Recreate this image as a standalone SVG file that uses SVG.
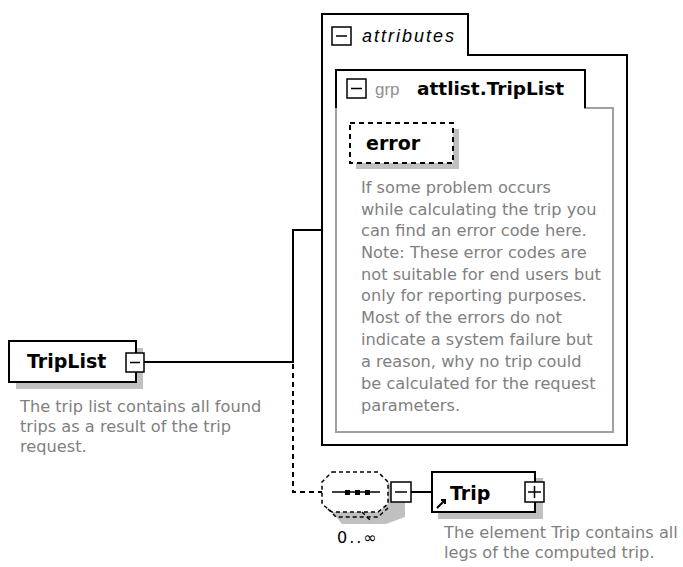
<svg xmlns="http://www.w3.org/2000/svg" width="683" height="567" viewBox="0 0 683 567">
<style>
.box{fill:#fff;stroke:#000;stroke-width:2}
.shadow{fill:#c0c0c0}
.name{font-family:"DejaVu Sans",Verdana,sans-serif;font-weight:bold;font-size:19px;fill:#000}
.desc{font-family:"DejaVu Sans",Verdana,sans-serif;font-size:16.2px;fill:#808080}
.btn{fill:#fff;stroke:#000;stroke-width:1.5}
.sign{stroke:#000;stroke-width:1.5;fill:none}
.conn{stroke:#000;stroke-width:2;fill:none}
.dash{stroke:#000;stroke-width:2;fill:none;stroke-dasharray:5,4}
.cdash{stroke:#000;stroke-width:1.5;fill:none;stroke-dasharray:4,3}
</style>
<g id="connectors">
<path class="conn" d="M144,362 H293 V230 H322"/>
<path class="dash" d="M293,364 V492 H322"/>
<path class="conn" d="M411,492 H432"/>
</g>
<g id="attributes">
<polygon points="322,14 468,14 468,55 627,55 627,445 322,445" fill="#fff" stroke="#000" stroke-width="2"/>
<rect x="332" y="27" width="19" height="18" class="btn"/>
<line x1="336" y1="36" x2="347" y2="36" class="sign"/>
<text x="362" y="42" font-family="Liberation Sans,Arial,sans-serif" font-style="italic" font-size="18" letter-spacing="2">attributes</text>
</g>
<g id="grp-attlist">
<polygon points="336,70 585,70 585,108 613,108 613,432 336,432" fill="#fff" stroke="#a0a0a0" stroke-width="2"/>
<path d="M336,108 V70 H585 V108" fill="none" stroke="#000" stroke-width="2"/>
<rect x="347" y="79" width="19" height="19" class="btn"/>
<line x1="351" y1="88.5" x2="362" y2="88.5" class="sign"/>
<text x="375" y="95" font-family="Liberation Sans,Arial,sans-serif" font-size="17" fill="#909090">grp</text>
<text x="417" y="95" font-family="DejaVu Sans,Verdana,sans-serif" font-weight="bold" font-size="18.5">attlist.TripList</text>
</g>
<g id="error">
<rect x="356" y="129" width="103" height="40" class="shadow"/>
<rect x="350" y="123" width="103" height="40" fill="#fff" stroke="#000" stroke-width="2" stroke-dasharray="5,4"/>
<text x="366" y="150" class="name">error</text>
<text class="desc">
<tspan x="361" y="193">If some problem occurs</tspan>
<tspan x="361" y="215">while calculating the trip you</tspan>
<tspan x="361" y="236">can find an error code here.</tspan>
<tspan x="361" y="258">Note: These error codes are</tspan>
<tspan x="361" y="280">not suitable for end users but</tspan>
<tspan x="361" y="301">only for reporting purposes.</tspan>
<tspan x="361" y="323">Most of the errors do not</tspan>
<tspan x="361" y="345">indicate a system failure but</tspan>
<tspan x="361" y="367">a reason, why no trip could</tspan>
<tspan x="361" y="389">be calculated for the request</tspan>
<tspan x="361" y="411">parameters.</tspan>
</text>
</g>
<g id="TripList">
<rect x="16" y="348" width="127" height="41" class="shadow"/>
<rect x="9" y="341" width="127" height="41" class="box"/>
<text x="27" y="368" class="name">TripList</text>
<rect x="126" y="353" width="18" height="19" class="btn"/>
<line x1="130" y1="362.5" x2="140" y2="362.5" class="sign"/>
<text class="desc">
<tspan x="20" y="412">The trip list contains all found</tspan>
<tspan x="20" y="432">trips as a result of the trip</tspan>
<tspan x="20" y="452">request.</tspan>
</text>
</g>
<g id="sequence">
<polygon points="336,480 386,480 396,490 405,490 405,517 386,524 342,524 332,512" class="shadow"/>
<polygon points="332,472 378,472 388,482 388,504 378,512 332,512 322,504 322,482" fill="#fff" stroke="#000" stroke-width="1.5" stroke-dasharray="4,3"/>
<path d="M328,509 L336,517 H378 L388,508" class="cdash"/>
<path d="M362,512 L370,520" class="cdash"/>
<line x1="332" y1="492" x2="380" y2="492" stroke="#000" stroke-width="1.5"/>
<rect x="345" y="490" width="5" height="5" fill="#000"/>
<rect x="355" y="490" width="5" height="5" fill="#000"/>
<rect x="365" y="490" width="5" height="5" fill="#000"/>
<rect x="391" y="482" width="20" height="20" class="btn"/>
<line x1="395" y1="492" x2="407" y2="492" class="sign"/>
<text x="337" y="543" font-family="DejaVu Sans,Verdana,sans-serif" font-size="16" letter-spacing="2">0..∞</text>
</g>
<g id="Trip">
<rect x="438" y="478" width="105" height="41" class="shadow"/>
<rect x="432" y="472" width="103" height="40" class="box"/>
<text x="450" y="500" class="name">Trip</text>
<path d="M437,508 L445,500 M441,500 H445 V504" stroke="#000" stroke-width="2" fill="none"/>
<rect x="525" y="482" width="19" height="20" class="btn"/>
<path d="M528,492 H541 M534.5,486 V498" class="sign"/>
<text class="desc">
<tspan x="444" y="538">The element Trip contains all</tspan>
<tspan x="444" y="558">legs of the computed trip.</tspan>
</text>
</g>
</svg>
